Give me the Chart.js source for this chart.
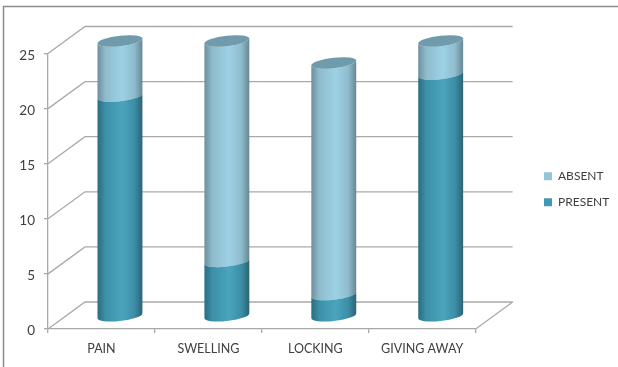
<!DOCTYPE html>
<html>
<head>
<meta charset="utf-8">
<title>Symptoms</title>
<script src="https://cdn.jsdelivr.net/npm/chart.js@4"></script>
<style>
  html, body { margin: 0; padding: 0; background: #fff; }
  canvas { display: block; }
</style>
</head>
<body>
<canvas id="chart" width="618" height="367"></canvas>
<script>
const categories = ["PAIN", "SWELLING", "LOCKING", "GIVING AWAY"];
const present = [20, 5, 2, 22];
const absent = [5, 20, 21, 3];
const yTicks = [0, 5, 10, 15, 20, 25];

const lineColor = "#a9a9a9";
const textColor = "#404040";

// depth of the floor, and how far the cylinders sit back into it
const depthX = 37, depthY = -27;
const barX = 18.5, barY = -12.5;
const capRy = 5.2, tilt = -0.11;

const bodyColors = {
  ABSENT: ["#6d8f9c", "#8fbccd", "#9dd1e5", "#8fbccd", "#668894"],
  PRESENT: ["#2a6d80", "#3c90a8", "#4aa4bd", "#3c8ea6", "#2b6474"]
};

function line(ctx, pts) {
  ctx.beginPath();
  pts.forEach((p, i) => i ? ctx.lineTo(p[0], p[1]) : ctx.moveTo(p[0], p[1]));
  ctx.stroke();
}

const frame = {
  id: "frame",
  beforeDraw(chart) {
    const ctx = chart.ctx;
    ctx.save();
    ctx.strokeStyle = "#8c8c8c";
    ctx.lineWidth = 1.5;
    line(ctx, [[3.5, 367], [3.5, 6.5], [618, 6.5]]);
    ctx.restore();
  }
};

// the legend sits well clear of the plot, further right than the layout puts it
const moveLegend = {
  id: "moveLegend",
  afterLayout(chart) {
    const lg = chart.legend;
    const dx = 530 - lg.left;
    lg.left += dx;
    lg.right += dx;
    lg.top -= 21;
    lg.bottom -= 21;
  }
};

const cylinders = {
  id: "cylinders",
  beforeDatasetsDraw(chart) {
    const ctx = chart.ctx, y = chart.scales.y, area = chart.chartArea;
    ctx.save();
    ctx.strokeStyle = lineColor;
    ctx.lineWidth = 1.3;
    y.ticks.forEach(t => {
      const py = y.getPixelForValue(t.value);
      line(ctx, [[area.left, py], [area.left + depthX, py + depthY], [area.right + depthX, py + depthY]]);
    });
    line(ctx, [[area.right, area.bottom], [area.right + depthX, area.bottom + depthY]]);
    ctx.restore();
  },
  beforeDatasetDraw(chart, args) {
    const ctx = chart.ctx;
    const ds = chart.data.datasets[args.index];
    const isTop = args.index === chart.data.datasets.length - 1;
    args.meta.data.forEach(bar => {
      const rx = bar.width / 2;
      const top = bar.y + barY, bottom = bar.base + barY;
      ctx.save();
      ctx.translate(bar.x + barX, 0);
      ctx.transform(1, tilt, 0, 1, 0, 0);
      const grad = ctx.createLinearGradient(-rx, 0, rx, 0);
      const stops = bodyColors[ds.label];
      [0, 0.18, 0.55, 0.82, 1].forEach((s, i) => grad.addColorStop(s, stops[i]));
      ctx.fillStyle = grad;
      ctx.beginPath();
      ctx.ellipse(0, bottom, rx, capRy, 0, 0, Math.PI);
      ctx.lineTo(-rx, top);
      ctx.ellipse(0, top, rx, capRy, 0, Math.PI, 0, true);
      ctx.closePath();
      ctx.fill();
      if (isTop) {
        ctx.fillStyle = "#6f9bac";
        ctx.beginPath();
        ctx.ellipse(0, top, rx, capRy, 0, 0, Math.PI * 2);
        ctx.fill();
      }
      ctx.restore();
    });
    return false;
  }
};

window.addEventListener("load", function () {
  new Chart(document.getElementById("chart"), {
    type: "bar",
    plugins: [frame, moveLegend, cylinders],
    data: {
      labels: categories,
      datasets: [
        { label: "PRESENT", data: present, backgroundColor: "#4099b3" },
        { label: "ABSENT", data: absent, backgroundColor: "#93c6d9" }
      ]
    },
    options: {
      responsive: false,
      animation: false,
      barPercentage: 1,
      categoryPercentage: 0.42,
      layout: { padding: { top: 53.5, left: 0, right: 53, bottom: 0 } },
      plugins: {
        title: { display: false },
        tooltip: { enabled: false },
        legend: {
          position: "right",
          reverse: true,
          labels: {
            boxWidth: 8,
            boxHeight: 8,
            padding: 14,
            color: textColor,
            font: { family: "Lato", size: 12 }
          }
        }
      },
      scales: {
        x: {
          stacked: true,
          afterFit(s) { s.height = 38; },
          grid: { drawOnChartArea: false, color: lineColor, tickLength: 4, lineWidth: 1.3 },
          border: { color: lineColor, width: 1.3 },
          ticks: {
            padding: 8,
            maxRotation: 0,
            autoSkip: false,
            color: textColor,
            font: { family: "Lato", size: 12.5 }
          }
        },
        y: {
          stacked: true,
          min: yTicks[0],
          max: yTicks[yTicks.length - 1],
          afterFit(s) { s.width = 48; },
          afterBuildTicks(s) { s.ticks = yTicks.map(v => ({ value: v })); },
          grid: { drawOnChartArea: false, color: lineColor, tickLength: 4, lineWidth: 1.3 },
          border: { color: lineColor, width: 1.3 },
          ticks: {
            padding: 9,
            labelOffset: 2,
            color: textColor,
            font: { family: "Lato", size: 13.5 }
          }
        }
      }
    }
  });
});
</script>
</body>
</html>
